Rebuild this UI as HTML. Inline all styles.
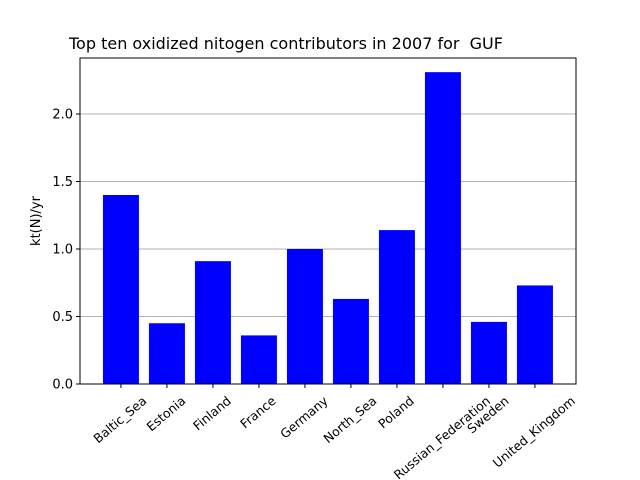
<!DOCTYPE html>
<html><head><meta charset="utf-8"><style>body{margin:0;background:#fff}svg{display:block;font-family:"DejaVu Sans","Liberation Sans",sans-serif}</style></head>
<body>
<svg id="chart" width="640" height="480">
<text x="69" y="49" font-size="16" style="white-space:pre" xml:space="preserve">Top ten oxidized nitogen contributors in 2007 for  GUF</text>
<g id="grid"></g><g id="bars"></g><g id="axes"></g>
<text transform="translate(40,221) rotate(-90)" text-anchor="middle" font-size="13">kt(N)/yr</text>
</svg>
<script>
const categories = ["Baltic_Sea","Estonia","Finland","France","Germany","North_Sea","Poland","Russian_Federation","Sweden","United_Kingdom"];
const values = [1.40,0.45,0.91,0.36,1.00,0.63,1.14,2.31,0.46,0.73];
const yTicks = [0.0,0.5,1.0,1.5,2.0];
const yTickLabels = ["0.0","0.5","1.0","1.5","2.0"];
const NS="http://www.w3.org/2000/svg";
const L=80,R=576,T=58,B=384;
const y=v=>B-v*135;
const x=i=>L+(i+0.89)*46;
function mk(t,a,p){const e=document.createElementNS(NS,t);for(const k in a)e.setAttribute(k,a[k]);p.appendChild(e);return e;}
const g=document.getElementById('grid'),bg=document.getElementById('bars'),ax=document.getElementById('axes');
yTicks.forEach((v,i)=>{
 if(v>0){const gl=mk('line',{x1:L,x2:R,y1:y(v),y2:y(v),stroke:'#b0b0b0','stroke-width':1},g);
 
 }
 mk('line',{x1:L-4,x2:L,y1:y(v),y2:y(v),stroke:'#000'},ax);
 const t=mk('text',{x:L-7,y:y(v)+4.5,'text-anchor':'end','font-size':13},ax);
 t.textContent=yTickLabels[i];
 
 
});
categories.forEach((c,i)=>{
 const r=mk('rect',{x:x(i)-18,y:y(values[i]),width:36,height:B-y(values[i]),fill:'#0000ff'},bg);
 
 
 mk('line',{x1:x(i),x2:x(i),y1:B,y2:B+4,stroke:'#000'},ax);
 const t=mk('text',{'text-anchor':'middle','font-size':12.5},ax);
 t.textContent=c;
 
 
 const w=t.getComputedTextLength(),h=12.5;
 const cy=B+10+(w*0.643+h*0.766)/2;
 t.setAttribute('transform',`translate(${x(i)-1},${cy}) rotate(-40) translate(0,4.5)`);
});
const f=mk('rect',{x:L,y:T,width:R-L,height:B-T,fill:'none',stroke:'#000','stroke-width':1},ax);


</script>
</body></html>
